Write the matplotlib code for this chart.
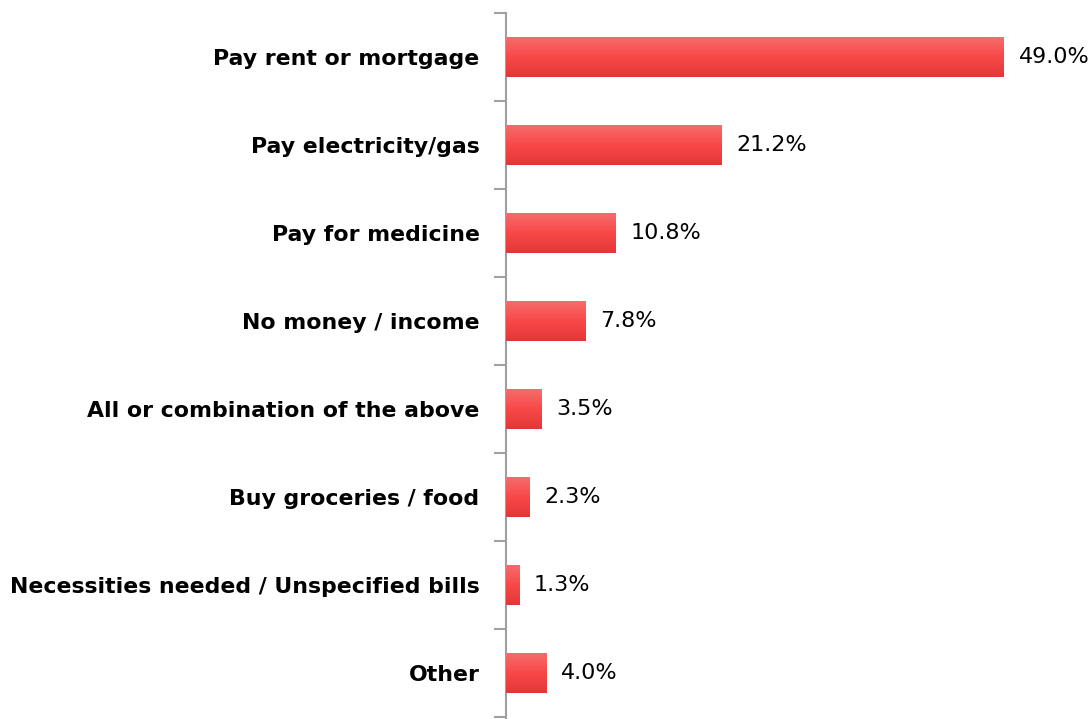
import matplotlib
matplotlib.use("Agg")
import matplotlib.pyplot as plt
import numpy as np
from matplotlib.colors import LinearSegmentedColormap

# Reasons given for needing the money (share of respondents, %)
categories = [
    "Pay rent or mortgage",
    "Pay electricity/gas",
    "Pay for medicine",
    "No money / income",
    "All or combination of the above",
    "Buy groceries / food",
    "Necessities needed / Unspecified bills",
    "Other",
]
values = [49.0, 21.2, 10.8, 7.8, 3.5, 2.3, 1.3, 4.0]

label_font = ["DejaVu Sans Condensed", "DejaVu Sans"]

W, H, DPI = 1091, 719, 100
fig = plt.figure(figsize=(W / DPI, H / DPI), dpi=DPI)
fig.patch.set_facecolor("white")

# axes placed in pixel units
left_px, top_px, right_px, bottom_px = 506, 13, 1085, 717
ax = fig.add_axes([left_px / W, 1 - bottom_px / H,
                   (right_px - left_px) / W, (bottom_px - top_px) / H])

n = len(categories)
y = np.arange(n)
bar_h = 0.45
bars = ax.barh(y, values, height=bar_h, color="#f04848", edgecolor="none", zorder=2)

# vertical red gradient on each bar (light on top, darker at the bottom)
grad = LinearSegmentedColormap.from_list(
    "bar_grad", ["#f66c6c", "#f84848", "#e33838"])
g = np.linspace(0, 1, 64).reshape(-1, 1)
for b in bars:
    x0, y0 = b.get_x(), b.get_y()
    w, h = b.get_width(), b.get_height()
    ax.imshow(g, cmap=grad, aspect="auto", interpolation="bilinear",
              extent=(x0, x0 + w, y0 + h, y0), origin="upper", zorder=3)

ax.set_xlim(0, (right_px - left_px) / ((1004 - 506) / 49.0))
ax.set_ylim(n - 0.5, -0.5)

for yi, v in zip(y, values):
    ax.text(v + 1.45, yi, f"{v:.1f}%", va="center", ha="left",
            fontsize=16, family=label_font, color="black", zorder=4)

ax.set_yticks(y)
ax.set_yticklabels(categories, fontsize=15.8, fontweight="bold", family=label_font)
ax.tick_params(axis="y", which="major", length=0, pad=19)
ax.set_yticks(np.arange(n + 1) - 0.5, minor=True)
ax.tick_params(axis="y", which="minor", length=9, width=1.5, color="#a0a0a0")
ax.set_xticks([])

for s in ("top", "right", "bottom"):
    ax.spines[s].set_visible(False)
ax.spines["left"].set_color("#a0a0a0")
ax.spines["left"].set_linewidth(1.5)
ax.spines["left"].set_bounds(n - 0.5 + 0.03, -0.5)

fig.savefig("out.png", dpi=DPI, facecolor="white")
